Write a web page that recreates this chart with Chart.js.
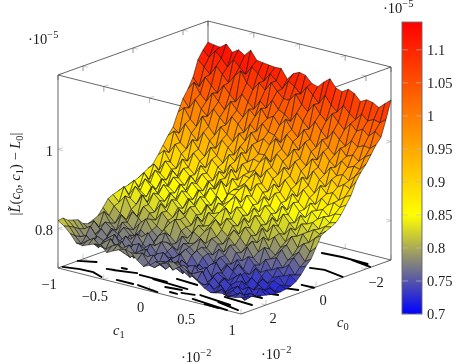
<!DOCTYPE html>
<html>
<head>
<meta charset="utf-8">
<style>
  html, body { margin: 0; padding: 0; background: #fff; }
  canvas { display: block; }
</style>
<script src="https://cdn.jsdelivr.net/npm/chart.js@4/dist/chart.umd.js"></script>
</head>
<body>
<canvas id="chart" width="459" height="364"></canvas>
<script>
const c1Ticks = [-1, -0.5, 0, 0.5, 1];
const c0Ticks = [-2, 0, 2];
const zTicks = [0.8, 1];
const barTicks = [0.7, 0.75, 0.8, 0.85, 0.9, 0.95, 1, 1.05, 1.1];

// surface values in 1e-8, rows run from c0 = 3 to c0 = -3, columns from c1 = -1 to c1 = 1
const surfaceRows = [
  [820,810,795,775,772,778,784,786,770,778,785,790,785,770,758,765,778,782,786,788,785,776,765,754,742,735,738,740,736,738,742],
  [822,805,785,768,780,790,775,770,782,790,772,765,778,784,762,755,768,775,760,772,778,762,750,742,748,730,742,728,735,745,738],
  [812,798,778,785,770,762,780,792,768,775,788,770,755,770,778,758,750,765,778,755,745,760,768,740,730,745,725,738,730,722,735],
  [808,790,772,760,782,775,758,770,785,762,750,772,780,760,748,755,772,750,742,765,770,745,735,752,738,722,735,745,725,735,730],
  [804,785,795,775,760,778,790,765,752,775,782,758,745,768,775,760,745,768,758,740,755,765,742,730,748,735,720,732,742,722,728],
  [790,780,770,788,772,755,768,785,770,750,765,780,762,748,758,762,775,752,738,760,750,735,750,742,725,738,745,722,730,738,725],
  [785,795,778,762,785,778,760,772,790,768,755,772,785,765,750,765,782,770,748,738,758,768,745,730,742,755,730,720,738,728,722],
  [790,775,792,780,765,790,775,758,778,792,770,760,780,772,755,770,760,778,765,745,755,742,760,748,735,725,745,732,718,730,720],
  [796,810,785,770,795,782,768,788,775,762,785,795,770,758,780,775,762,782,770,752,768,755,740,762,745,730,722,740,728,716,720],
  [812,795,780,805,790,775,795,810,785,772,795,782,768,790,775,780,795,775,762,780,768,750,765,745,735,755,738,725,735,728,722],
  [830,815,800,788,812,800,785,805,792,780,805,820,795,780,800,790,778,795,785,768,790,775,758,772,755,740,750,735,742,722,725],
  [836,820,840,810,795,825,812,798,822,805,790,815,800,788,812,800,815,795,780,800,785,770,788,765,750,768,745,755,738,745,732],
  [840,855,830,818,845,825,810,835,820,808,832,818,800,825,805,812,830,808,795,815,800,782,798,775,790,765,772,750,762,740,745],
  [843,830,855,838,822,850,835,820,845,828,815,838,822,808,835,825,810,832,818,800,822,805,790,808,782,770,788,765,775,755,762],
  [846,862,840,828,858,842,828,852,838,822,848,835,818,845,828,835,850,825,812,835,815,800,822,795,808,785,795,772,785,765,775],
  [850,840,865,848,835,862,845,832,858,842,830,855,838,825,850,845,830,852,835,820,842,822,808,830,812,795,812,788,802,785,800],
  [855,872,850,838,868,852,840,866,850,835,862,848,832,858,842,855,870,845,830,852,835,818,840,822,805,825,808,818,800,815,825],
  [862,850,878,860,845,872,858,845,870,855,842,868,852,838,865,865,850,872,852,838,858,842,825,848,830,815,835,818,828,820,832],
  [870,885,865,852,880,865,850,878,862,848,875,860,885,852,870,875,890,865,850,872,852,838,860,842,825,848,830,838,825,835,838],
  [877,865,892,875,860,885,870,858,882,868,855,880,865,890,872,885,870,892,875,858,880,860,845,868,850,838,858,842,852,840,845],
  [895,910,885,872,900,882,868,895,880,865,892,878,905,882,898,895,912,888,872,895,878,860,882,865,850,870,855,862,848,858,860],
  [915,900,925,905,890,915,898,885,910,895,882,908,892,918,900,910,895,918,900,882,905,885,870,892,875,862,882,868,878,870,880],
  [935,950,925,912,940,920,905,932,915,900,925,912,938,918,930,925,942,920,905,928,910,892,915,898,882,905,888,895,880,892,900],
  [952,940,968,948,932,958,940,925,950,935,920,945,932,958,938,940,925,950,935,918,942,922,905,930,912,898,920,905,915,908,930],
  [985,1000,975,960,990,968,950,975,960,945,970,955,980,960,972,960,980,958,942,965,945,930,952,935,920,942,925,932,920,935,950],
  [1015,995,1020,1000,985,1008,990,975,1000,985,968,992,978,1002,985,980,965,990,975,958,982,962,945,970,950,938,958,945,952,948,965],
  [1035,1055,1030,1015,1040,1022,1005,1030,1012,998,1022,1008,1032,1010,1020,1000,1020,998,982,1005,985,968,992,975,960,982,965,972,960,975,985],
  [1060,1040,1068,1050,1035,1058,1040,1025,1048,1032,1018,1042,1028,1052,1032,1025,1010,1035,1018,1002,1025,1005,990,1012,995,982,1000,988,995,992,1005],
  [1100,1085,1070,1095,1078,1060,1082,1098,1072,1058,1080,1065,1088,1070,1055,1055,1075,1052,1038,1060,1040,1025,1048,1030,1015,1035,1020,1028,1015,1030,1020],
  [1120,1105,1125,1110,1092,1115,1100,1085,1108,1095,1080,1102,1088,1072,1095,1085,1070,1092,1075,1058,1082,1062,1048,1068,1052,1040,1058,1045,1052,1048,1060],
  [1135,1132,1130,1142,1125,1135,1125,1142,1120,1118,1116,1114,1115,1092,1110,1117,1113,1097,1092,1108,1120,1100,1095,1105,1098,1082,1090,1087,1078,1092,1105]
];

// black contour pieces on the floor, [c1, c0] pairs
const floorMarks = [
  [[-0.99,2.85],[-0.84,2.71],[-0.70,2.69],[-0.56,2.87]],
  [[-1,2.21],[-0.86,1.97]],
  [[-0.67,2.26],[-0.60,2.20]],
  [[-0.59,1.95],[-0.54,1.93]],
  [[-0.18,2.80],[0.07,2.94]],
  [[-0.35,2.11],[-0.05,2.12]],
  [[-0.41,2.81],[-0.23,2.81]],
  [[0.15,2.73],[0.23,2.74]],
  [[-0.19,2.16],[0.21,2.25]],
  [[0.42,2.81],[0.84,2.97]],
  [[0.40,2.43],[0.77,2.59]],
  [[-0.04,1.76],[0.20,1.82]],
  [[0.03,2.48],[0.19,2.40]],
  [[0.24,2.60],[0.36,2.51]],
  [[0.59,2.95],[0.75,2.98]],
  [[0.64,2.59],[0.91,2.79]],
  [[0.59,2.15],[0.91,2.23]],
  [[0.63,1.61],[0.85,1.61]],
  [[0.72,1.28],[0.90,1.15]],
  [[0.82,0.58],[0.94,0.49]],
  [[0.87,0.10],[1,0.08]],
  [[0.62,-1.15],[0.75,-1.26],[0.99,-1.10]],
  [[0.43,-2.32],[0.63,-2.39],[0.92,-2.36]],
  [[0.75,-2.36],[0.99,-2.20]],
  [[-0.61,2.23],[-0.40,2.03]]
];

const zMin = 0.7, zTop = 1.1886, zMaxColor = 1.142;

// view of the box on the page
function px(c1, c0) {
  const a = (c1 + 1) / 2, b = (3 - c0) / 6;
  return 58 + 183 * a + 150 * b;
}
function py(c1, c0, z) {
  const a = (c1 + 1) / 2, b = (3 - c0) / 6;
  return 268 + 46 * a - 54 * b - 395 * (z - zMin);
}
function pt(c1, c0, z) { return { x: px(c1, c0), y: py(c1, c0, z) }; }
const gap = { x: null, y: null };

function colorAt(v) {
  if (v <= 0.85) {
    const t = Math.max(0, (v - 0.7) / 0.15);
    return `rgb(${255 * t},${255 * t},${255 * (1 - t)})`;
  }
  const t = Math.min(1, (v - 0.85) / (zMaxColor - 0.85));
  return `rgb(255,${255 * (1 - t)},0)`;
}

const nRows = surfaceRows.length, nCols = surfaceRows[0].length;
surfaceRows.forEach(r => { if (r.length !== nCols) throw new Error('bad row ' + r.length); });

const surfacePoints = [];
surfaceRows.forEach((row, j) => {
  row.forEach((v, i) => {
    const c1 = -1 + 2 * i / (nCols - 1), c0 = 3 - 6 * j / (nRows - 1), z = v / 1000;
    surfacePoints.push({ x: px(c1, c0), y: py(c1, c0, z), z: z });
  });
});

const floorPoints = [];
floorMarks.forEach(m => {
  m.forEach(p => floorPoints.push(pt(p[0], p[1], zMin)));
  floorPoints.push(gap);
});

const boxPoints = [
  pt(-1, 3, zMin), pt(1, 3, zMin), pt(1, -3, zMin), pt(-1, -3, zMin), pt(-1, 3, zMin), gap,
  pt(-1, 3, zTop), pt(1, 3, zTop), pt(1, -3, zTop), pt(-1, -3, zTop), pt(-1, 3, zTop), gap,
  pt(-1, 3, zMin), pt(-1, 3, zTop), gap,
  pt(1, -3, zMin), pt(1, -3, zTop), gap,
  pt(-1, -3, zMin), pt(-1, -3, zTop), gap
];

// gray tick marks, two short strokes per tick
const dC1 = [4.8, 1.2], dC0 = [4.7, -1.7], dZ = [0, -5];
const tickPoints = [];
function tick(p, d, s) {
  tickPoints.push(p, { x: p.x + s * d[0], y: p.y + s * d[1] }, gap);
}
c1Ticks.forEach(c => {
  tick(pt(c, 3, zMin), dC0, 1); tick(pt(c, 3, zMin), dZ, 1);
  tick(pt(c, -3, zMin), dC0, -1); tick(pt(c, -3, zMin), dZ, 1);
  tick(pt(c, 3, zTop), dC0, 1); tick(pt(c, 3, zTop), dZ, -1);
  tick(pt(c, -3, zTop), dC0, -1); tick(pt(c, -3, zTop), dZ, -1);
});
c0Ticks.forEach(c => {
  tick(pt(-1, c, zMin), dC1, 1); tick(pt(-1, c, zMin), dZ, 1);
  tick(pt(1, c, zMin), dC1, -1); tick(pt(1, c, zMin), dZ, 1);
  tick(pt(-1, c, zTop), dC1, 1); tick(pt(-1, c, zTop), dZ, -1);
  tick(pt(1, c, zTop), dC1, -1); tick(pt(1, c, zTop), dZ, -1);
});
zTicks.forEach(z => {
  tick(pt(-1, 3, z), dC1, 1); tick(pt(-1, 3, z), dC0, 1);
  tick(pt(1, -3, z), dC1, -1); tick(pt(1, -3, z), dC0, -1);
  tick(pt(-1, -3, z), dC1, 1); tick(pt(-1, -3, z), dC0, -1);
});

// colorbar sits in its own strip on the same page scales
const barLeft = 402, barRight = 422;
function barY(v) { return 314 - (v - zMin) * 660.5; }
const barPoints = [{ x: barLeft, y: barY(zMin) }, { x: barLeft, y: barY(zMaxColor) }];

const FONT = '"Liberation Serif", serif';
const TEXT = '#1c1c1c';

// runs: [text, style] with style 'i' italic, 'sub', 'isub', 'sup'
function mathText(ctx, runs, x, y, size, align, angle) {
  ctx.save();
  ctx.translate(x, y);
  if (angle) ctx.rotate(angle);
  ctx.fillStyle = TEXT;
  ctx.textBaseline = 'alphabetic';
  ctx.textAlign = 'left';
  const fontOf = s => {
    const small = s === 'sub' || s === 'sup' || s === 'isub';
    const it = s === 'i' || s === 'isub';
    return `${it ? 'italic ' : ''}${small ? size * 0.72 : size}px ${FONT}`;
  };
  let total = 0;
  runs.forEach(r => { ctx.font = fontOf(r[1]); total += ctx.measureText(r[0]).width; });
  let cx = align === 'center' ? -total / 2 : align === 'right' ? -total : 0;
  runs.forEach(r => {
    ctx.font = fontOf(r[1]);
    const dy = (r[1] === 'sub' || r[1] === 'isub') ? size * 0.2 : r[1] === 'sup' ? -size * 0.42 : 0;
    ctx.fillText(r[0], cx, dy);
    cx += ctx.measureText(r[0]).width;
  });
  ctx.restore();
}

const surfacePlugin = {
  id: 'surface',
  afterDatasetDraw(chart, args) {
    const name = chart.data.datasets[args.index].label;
    const ctx = chart.ctx;
    if (name === 'surface') {
      const els = args.meta.data, pts = chart.data.datasets[args.index].data;
      ctx.save();
      ctx.lineWidth = 0.65;
      ctx.lineJoin = 'round';
      ctx.strokeStyle = 'rgba(10,10,10,0.8)';
      // back to front: far row first, left column first
      for (let j = nRows - 2; j >= 0; j--) {
        for (let i = 0; i < nCols - 1; i++) {
          const k = [j * nCols + i, j * nCols + i + 1, (j + 1) * nCols + i + 1, (j + 1) * nCols + i];
          ctx.beginPath();
          k.forEach((n, q) => q ? ctx.lineTo(els[n].x, els[n].y) : ctx.moveTo(els[n].x, els[n].y));
          ctx.closePath();
          ctx.fillStyle = colorAt((pts[k[0]].z + pts[k[1]].z + pts[k[2]].z + pts[k[3]].z) / 4);
          ctx.fill();
          ctx.stroke();
        }
      }
      ctx.restore();
    }
    if (name === 'colorbar') {
      const els = args.meta.data;
      const x0 = els[0].x, yb = els[0].y, yt = els[1].y;
      const x1 = chart.scales.x.getPixelForValue(barRight);
      const g = ctx.createLinearGradient(0, yb, 0, yt);
      const s = (0.85 - zMin) / (zMaxColor - zMin);
      g.addColorStop(0, 'rgb(0,0,255)');
      g.addColorStop(s, 'rgb(255,255,0)');
      g.addColorStop(1, 'rgb(255,0,0)');
      ctx.save();
      ctx.fillStyle = g;
      ctx.fillRect(x0, yt, x1 - x0, yb - yt);
      ctx.strokeStyle = 'rgba(190,190,190,0.9)';
      ctx.lineWidth = 0.7;
      barTicks.forEach(v => {
        const y = chart.scales.y.getPixelForValue(barY(v));
        ctx.beginPath();
        ctx.moveTo(x0, y); ctx.lineTo(x0 + 6, y);
        ctx.moveTo(x1 - 6, y); ctx.lineTo(x1, y);
        ctx.stroke();
      });
      ctx.strokeStyle = '#666';
      ctx.lineWidth = 0.9;
      ctx.strokeRect(x0, yt, x1 - x0, yb - yt);
      ctx.restore();
    }
  },
  afterDraw(chart) {
    const ctx = chart.ctx, sx = chart.scales.x, sy = chart.scales.y;
    const size = 14.5;
    const lab = (runs, x, y, align, angle) =>
      mathText(ctx, runs, sx.getPixelForValue(x), sy.getPixelForValue(y), size, align, angle);
    const fmt = v => (v < 0 ? '\u2212' : '') + String(Math.abs(v));

    barTicks.forEach(v => lab([[fmt(v), '']], 427, barY(v) + 5, 'left'));
    lab([['\u00b710', ''], ['\u22125', 'sup']], 383, 13, 'left');
    lab([['\u00b710', ''], ['\u22125', 'sup']], 28, 44, 'left');
    lab([['\u00b710', ''], ['\u22122', 'sup']], 181, 362, 'left');
    lab([['\u00b710', ''], ['\u22122', 'sup']], 261, 359, 'left');

    c1Ticks.forEach(c => lab([[fmt(c), '']], px(c, 3) - 9, py(c, 3, zMin) + 21, 'center'));
    c0Ticks.forEach(c => lab([[fmt(c), '']], px(1, c) + (c < 0 ? 10 : 7), py(1, c, zMin) + 18, 'center'));
    zTicks.forEach(z => lab([[fmt(z), '']], 53, py(-1, 3, z) + 6, 'right'));

    lab([['c', 'i'], ['1', 'sub']], 113, 335, 'left');
    lab([['c', 'i'], ['0', 'sub']], 337, 327, 'left');
    lab([['|', ''], ['L\u0303', 'i'], ['(', ''], ['c', 'i'], ['0', 'sub'], [', ', ''], ['c', 'i'], ['1', 'sub'],
      [') \u2212 ', ''], ['L', 'i'], ['0', 'sub'], ['|', '']], 20, 174, 'center', -Math.PI / 2);
  }
};

new Chart(document.getElementById('chart'), {
  type: 'scatter',
  plugins: [surfacePlugin],
  data: {
    datasets: [
      { label: 'surface', data: surfacePoints, pointRadius: 0, showLine: false },
      { label: 'colorbar', data: barPoints, pointRadius: 0, showLine: false },
      { label: 'floor', data: floorPoints, pointRadius: 0, showLine: true, borderColor: '#000', borderWidth: 1.9, borderCapStyle: 'round', spanGaps: false },
      { label: 'box', data: boxPoints, pointRadius: 0, showLine: true, borderColor: '#555', borderWidth: 0.9, spanGaps: false },
      { label: 'ticks', data: tickPoints, pointRadius: 0, showLine: true, borderColor: '#bbb', borderWidth: 0.8, spanGaps: false }
    ]
  },
  options: {
    responsive: false,
    animation: false,
    events: [],
    layout: { padding: 0 },
    plugins: { legend: { display: false }, tooltip: { enabled: false } },
    scales: {
      x: { type: 'linear', min: 0, max: 459, display: false },
      y: { type: 'linear', min: 0, max: 364, reverse: true, display: false }
    }
  }
});
</script>
</body>
</html>
